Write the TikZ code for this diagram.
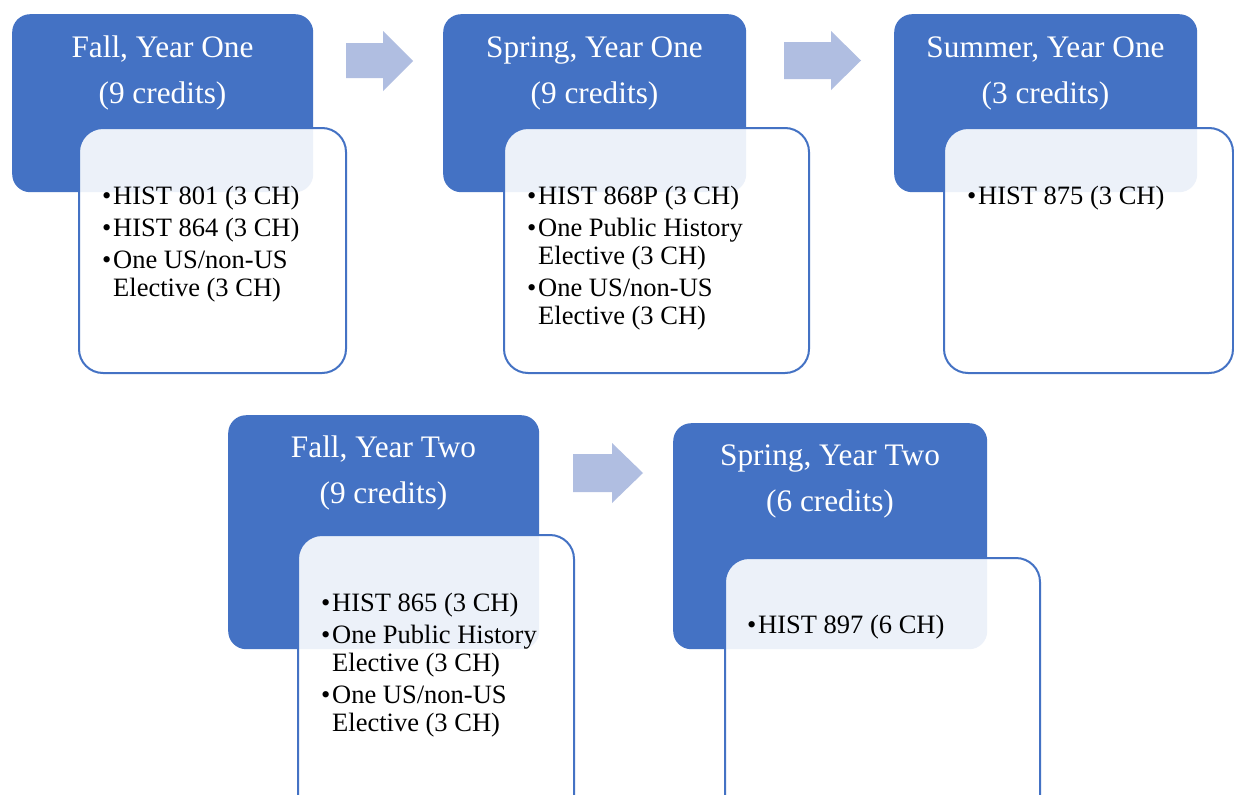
\documentclass[tikz,border=0pt]{standalone}
\usepackage{fontspec}
\setmainfont{Liberation Serif}
\definecolor{accent}{HTML}{4472C4}
\definecolor{arrowc}{HTML}{B0BEE1}
\newcommand{\bitem}[1]{\makebox[11pt][l]{\textbullet}#1}
\newcommand{\bcont}[1]{\hspace*{11pt}#1}
\tikzset{
  bluebox/.style={draw=none, fill=accent, rounded corners=18pt, inner sep=0pt, anchor=north west},
  whitebox/.style={draw=accent, line width=2pt, fill=white, fill opacity=0.9, rounded corners=24pt, inner sep=0pt, anchor=north west},
  titletext/.style={text=white, font=\fontsize{31.3}{46}\selectfont, align=center, anchor=base, inner sep=0pt},
  bodytext/.style={text=black, font=\fontsize{26.5}{28}\selectfont, align=left, anchor=base west, inner sep=0pt},
  flowarrow/.style={fill=arrowc, draw=none}
}
\begin{document}
\begin{tikzpicture}[x=1pt,y=-1pt]
\useasboundingbox (0,0) rectangle (1234,795);
\clip (0,0) rectangle (1234,795);
\fill[white] (0,0) rectangle (1234,795);

% ---- Panel 1: Fall, Year One
\node[bluebox, minimum width=301pt, minimum height=178pt] (b1) at (12,14) {};
\node[whitebox, minimum width=267pt, minimum height=245pt] (w1) at (78,127) {};
\node[titletext] (t1) at (162.5,103) {Fall, Year One\\(9 credits)};
\node[bodytext] (c1) at (102,296) {\bitem{HIST 801 (3 CH)}\\[4pt]\bitem{HIST 864 (3 CH)}\\[4pt]\bitem{One US/non-US}\\\bcont{Elective (3 CH)}};

% ---- Panel 2: Spring, Year One
\node[bluebox, minimum width=303pt, minimum height=178pt] (b2) at (443,14) {};
\node[whitebox, minimum width=305pt, minimum height=245pt] (w2) at (503,127) {};
\node[titletext] (t2) at (594.5,103) {Spring, Year One\\(9 credits)};
\node[bodytext] (c2) at (527,324) {\bitem{HIST 868P (3 CH)}\\[4pt]\bitem{One Public History}\\\bcont{Elective (3 CH)}\\[4pt]\bitem{One US/non-US}\\\bcont{Elective (3 CH)}};

% ---- Panel 3: Summer, Year One
\node[bluebox, minimum width=303pt, minimum height=178pt] (b3) at (894,14) {};
\node[whitebox, minimum width=289pt, minimum height=245pt] (w3) at (943,127) {};
\node[titletext] (t3) at (1045.5,103) {Summer, Year One\\(3 credits)};
\node[bodytext] (c3) at (967,204) {\bitem{HIST 875 (3 CH)}};

% ---- Panel 4: Fall, Year Two
\node[bluebox, minimum width=311pt, minimum height=234pt] (b4) at (228,415) {};
\node[whitebox, minimum width=276pt, minimum height=300pt] (w4) at (297,534) {};
\node[titletext] (t4) at (383.5,503) {Fall, Year Two\\(9 credits)};
\node[bodytext] (c4) at (321,731) {\bitem{HIST 865 (3 CH)}\\[4pt]\bitem{One Public History}\\\bcont{Elective (3 CH)}\\[4pt]\bitem{One US/non-US}\\\bcont{Elective (3 CH)}};

% ---- Panel 5: Spring, Year Two
\node[bluebox, minimum width=314pt, minimum height=226pt] (b5) at (673,423) {};
\node[whitebox, minimum width=315pt, minimum height=280pt] (w5) at (724,557) {};
\node[titletext] (t5) at (830,511) {Spring, Year Two\\(6 credits)};
\node[bodytext] (c5) at (747,633) {\bitem{HIST 897 (6 CH)}};

% ---- Arrows
\fill[flowarrow] (346,43) -- (383,43) -- (383,31) -- (413,61) -- (383,91) -- (383,78) -- (346,78) -- cycle;
\fill[flowarrow] (784,42) -- (831,42) -- (831,31) -- (861,60.5) -- (831,90) -- (831,79) -- (784,79) -- cycle;
\fill[flowarrow] (573,454) -- (612,454) -- (612,443) -- (643,473) -- (612,503) -- (612,492) -- (573,492) -- cycle;
\end{tikzpicture}
\end{document}
